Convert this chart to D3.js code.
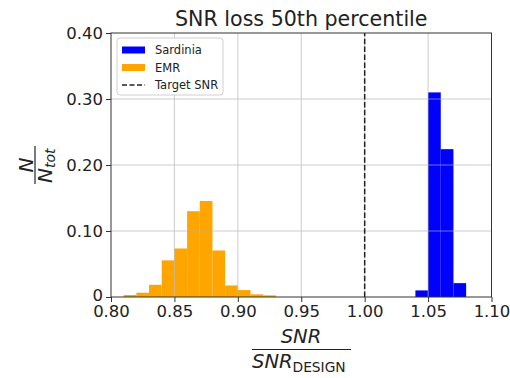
<!DOCTYPE html>
<html>
<head>
<meta charset="utf-8">
<script src="https://cdn.jsdelivr.net/npm/d3@7"></script>
<style>
  html, body { margin: 0; padding: 0; background: #fff; }
  svg { display: block; font-family: "DejaVu Sans", sans-serif; }
</style>
</head>
<body>
<svg id="chart" width="510" height="378"></svg>
<script>
// Histogram bin left edges (bin width 0.01) and normalised counts N/Ntot
const binWidth = 0.01;
const emrBins = [0.81, 0.82, 0.83, 0.84, 0.85, 0.86, 0.87, 0.88, 0.89, 0.90, 0.91, 0.92];
const emrValues = [0.003, 0.0065, 0.0185, 0.0555, 0.0735, 0.130, 0.1455, 0.0705, 0.0175, 0.0105, 0.004, 0.0025];
const sardiniaBins = [1.04, 1.05, 1.06, 1.07];
const sardiniaValues = [0.010, 0.310, 0.224, 0.021];
const targetSNR = 1.00;

const xTicks = [0.80, 0.85, 0.90, 0.95, 1.00, 1.05, 1.10];
const xTickLabels = ["0.80", "0.85", "0.90", "0.95", "1.00", "1.05", "1.10"];
const yTicks = [0, 0.10, 0.20, 0.30, 0.40];
const yTickLabels = ["0", "0.10", "0.20", "0.30", "0.40"];

const title = "SNR loss 50th percentile";
const legendLabels = ["Sardinia", "EMR", "Target SNR"];

const W = 510, H = 378;
const margin = { top: 33, right: 18.5, bottom: 81, left: 111 };
const svg = d3.select("#chart");

const x = d3.scaleLinear().domain([0.80, 1.10]).range([margin.left, W - margin.right]);
const y = d3.scaleLinear().domain([0, 0.40]).range([H - margin.bottom, margin.top]);

// bars
function drawHist(bins, values, color) {
  svg.append("g").selectAll("rect")
    .data(bins.map((b, i) => ({ b, v: values[i] })))
    .join("rect")
    .attr("x", d => x(d.b))
    .attr("width", d => x(d.b + binWidth) - x(d.b))
    .attr("y", d => y(d.v))
    .attr("height", d => y(0) - y(d.v))
    .attr("fill", color);
}
drawHist(emrBins, emrValues, "#ffa500");
drawHist(sardiniaBins, sardiniaValues, "#0000ff");

// grid
const grid = svg.append("g").attr("stroke", "#b0b0b0").attr("stroke-width", 0.8).attr("opacity", 0.8);
grid.selectAll(".gx").data(xTicks.slice(1, -1)).join("line")
  .attr("x1", d => x(d)).attr("x2", d => x(d))
  .attr("y1", y(0)).attr("y2", y(0.40));
grid.selectAll(".gy").data(yTicks.slice(1, -1)).join("line")
  .attr("x1", x(0.80)).attr("x2", x(1.10))
  .attr("y1", d => y(d)).attr("y2", d => y(d));

// target SNR line
svg.append("line")
  .attr("x1", x(targetSNR)).attr("x2", x(targetSNR))
  .attr("y1", y(0)).attr("y2", y(0.40))
  .attr("stroke", "#222").attr("stroke-width", 1.5)
  .attr("stroke-dasharray", "5.5,2.4");

// axes
const xAxis = d3.axisBottom(x).tickValues(xTicks)
  .tickFormat((d, i) => xTickLabels[i]).tickSize(5).tickPadding(3);
const yAxis = d3.axisLeft(y).tickValues(yTicks)
  .tickFormat((d, i) => yTickLabels[i]).tickSize(5).tickPadding(3);

const gx = svg.append("g").attr("transform", `translate(0,${y(0)})`).call(xAxis);
const gy = svg.append("g").attr("transform", `translate(${x(0.80)},0)`).call(yAxis);
[gx, gy].forEach(g => {
  g.select(".domain").remove();
  g.selectAll(".tick line").attr("stroke", "#333").attr("stroke-width", 1);
  g.selectAll(".tick text").attr("fill", "#222").attr("font-size", 16.5)
    .attr("font-family", "DejaVu Sans, sans-serif");
});
// lift the zero label a touch so it clears the first x label
gy.selectAll(".tick text").filter(d => d === 0).attr("dy", "0.2em");
gx.selectAll(".tick text").attr("dy", "0.74em");

// frame
svg.append("rect")
  .attr("x", x(0.80)).attr("y", y(0.40))
  .attr("width", x(1.10) - x(0.80)).attr("height", y(0) - y(0.40))
  .attr("fill", "none").attr("stroke", "#333").attr("stroke-width", 1);

// title
svg.append("text").attr("x", (x(0.80) + x(1.10)) / 2).attr("y", 26)
  .attr("text-anchor", "middle").attr("font-size", 20.6).attr("fill", "#222")
  .text(title);

// legend
const lg = svg.append("g");
lg.append("rect").attr("x", 117).attr("y", 38).attr("width", 106).attr("height", 57)
  .attr("rx", 3).attr("fill", "#fff").attr("fill-opacity", 0.85)
  .attr("stroke", "#d0d0d0").attr("stroke-width", 1);
const legendRows = [
  { label: legendLabels[0], color: "#0000ff", kind: "patch" },
  { label: legendLabels[1], color: "#ffa500", kind: "patch" },
  { label: legendLabels[2], color: "#222", kind: "line" }
];
legendRows.forEach((r, i) => {
  const cy = 50 + i * 17.5;
  if (r.kind === "patch") {
    lg.append("rect").attr("x", 122).attr("y", cy - 3.5).attr("width", 23).attr("height", 7).attr("fill", r.color);
  } else {
    lg.append("line").attr("x1", 122).attr("x2", 145).attr("y1", cy).attr("y2", cy)
      .attr("stroke", r.color).attr("stroke-width", 1.5).attr("stroke-dasharray", "5,2.5");
  }
  lg.append("text").attr("x", 155).attr("y", cy + 4).attr("font-size", 11.5).attr("fill", "#222").text(r.label);
});

// x label: SNR / SNR_DESIGN
const xl = svg.append("g").attr("fill", "#222");
xl.append("text").attr("x", 301).attr("y", 343).attr("text-anchor", "middle")
  .attr("font-size", 19.5).attr("font-style", "italic").text("SNR");
xl.append("line").attr("x1", 252).attr("x2", 351).attr("y1", 349.5).attr("y2", 349.5)
  .attr("stroke", "#222").attr("stroke-width", 1.2);
const den = xl.append("text").attr("x", 252).attr("y", 368).attr("font-size", 19.5);
den.append("tspan").attr("font-style", "italic").text("SNR");
den.append("tspan").attr("font-size", 13.8).attr("dy", 3.5).text("DESIGN");

// y label: N / N_tot
const yl = svg.append("g").attr("transform", "translate(35,165) rotate(-90)").attr("fill", "#222");
yl.append("text").attr("x", 0).attr("y", -2.5).attr("text-anchor", "middle")
  .attr("font-size", 20).attr("font-style", "italic").text("N");
yl.append("line").attr("x1", -19).attr("x2", 19).attr("y1", 0).attr("y2", 0)
  .attr("stroke", "#222").attr("stroke-width", 1.2);
const yden = yl.append("text").attr("x", -18).attr("y", 16.5).attr("font-size", 20).attr("font-style", "italic");
yden.append("tspan").text("N");
yden.append("tspan").attr("font-size", 14).attr("dy", 3).text("tot");
</script>
</body>
</html>
